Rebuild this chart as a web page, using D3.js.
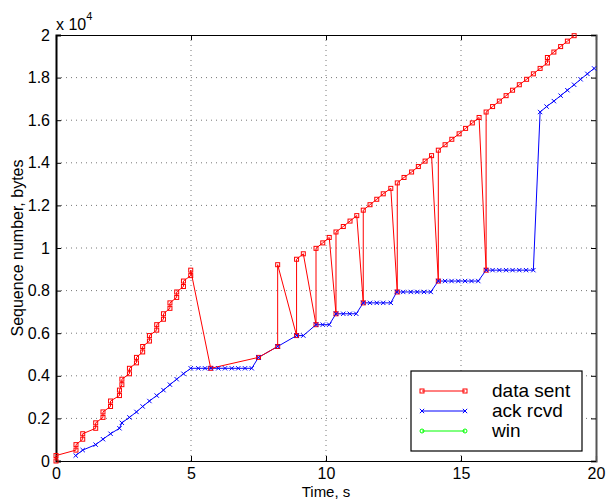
<!DOCTYPE html>
<html lang="en">
<head>
    <meta charset="utf-8">
    <title>Sequence number trace</title>
    <script src="https://cdn.jsdelivr.net/npm/d3@7"></script>
    <style>
        body { margin: 0; background: #fff; font-family: 'Liberation Sans', Arial, sans-serif; }
        svg text { font-family: 'Liberation Sans', Arial, sans-serif; }
    </style>
</head>
<body>
<svg id="chart"></svg>
<script>
    // data sent (time in s, sequence number in bytes)
    var sentTime = [0, 0, 0.74, 0.74, 0.99, 0.99, 1.47, 1.47, 1.74, 1.74, 2.02, 2.02,
        2.35, 2.35, 2.44, 2.44, 2.72, 2.72, 2.98, 2.98, 3.21, 3.21, 3.46, 3.46,
        3.73, 3.73, 3.98, 3.98, 4.22, 4.22, 4.47, 4.47, 4.72, 4.72, 4.99, 4.99,
        5.73, 7.50, 8.21, 8.21, 8.91, 8.91, 9.16, 9.63, 9.63, 9.88, 10.12,
        10.37, 10.37, 10.64, 10.89, 11.14, 11.38, 11.38, 11.63, 11.88, 12.12, 12.40,
        12.64, 12.64, 12.89, 13.17, 13.42, 13.67, 13.91, 14.16, 14.16, 14.41, 14.66,
        14.93, 15.17, 15.42, 15.67, 15.93, 15.93, 16.17, 16.42, 16.67, 16.91, 17.16,
        17.43, 17.68, 17.93, 18.20, 18.20, 18.44, 18.69, 18.94, 19.19];
    var sentSeq = [0, 256, 512, 768, 1024, 1280, 1536, 1792, 2048, 2304, 2560, 2816,
        3072, 3328, 3584, 3840, 4096, 4352, 4608, 4864, 5120, 5376, 5632, 5888,
        6144, 6400, 6656, 6912, 7168, 7424, 7680, 7936, 8192, 8448, 8704, 8960,
        4352, 4864, 5376, 9216, 5888, 9472, 9728, 6400, 9984, 10240, 10496,
        6912, 10752, 11008, 11264, 11520, 7424, 11776, 12032, 12288, 12544, 12800,
        7936, 13056, 13312, 13568, 13824, 14080, 14336, 8448, 14592, 14848, 15104,
        15360, 15616, 15872, 16128, 8960, 16384, 16640, 16896, 17152, 17408, 17664,
        17920, 18176, 18432, 18688, 18944, 19200, 19456, 19712, 19968];

    // ack rcvd
    var ackTime = [0.73, 0.99, 1.47, 1.74, 2.02, 2.35, 2.44, 2.72, 2.98, 3.21, 3.46,
        3.73, 3.98, 4.22, 4.47, 4.72, 4.99,
        5.27, 5.52, 5.74, 6.01, 6.26, 6.51, 6.75, 7.00, 7.25, 7.50, 8.21,
        8.91, 9.16, 9.63, 9.88, 10.12, 10.37, 10.64, 10.88, 11.12,
        11.38, 11.63, 11.88, 12.12, 12.40, 12.62, 12.86, 13.14, 13.38, 13.63, 13.88,
        14.16, 14.41, 14.65, 14.90, 15.15, 15.39, 15.64,
        15.93, 16.17, 16.42, 16.67, 16.91, 17.16, 17.41, 17.68,
        17.93, 18.17, 18.44, 18.69, 18.94, 19.19, 19.43, 19.68, 19.93];
    var ackSeq = [256, 512, 768, 1024, 1280, 1536, 1792, 2048, 2304, 2560, 2816,
        3072, 3328, 3584, 3840, 4096, 4352,
        4352, 4352, 4352, 4352, 4352, 4352, 4352, 4352, 4352, 4864, 5376,
        5888, 5888, 6400, 6400, 6400, 6912, 6912, 6912, 6912,
        7424, 7424, 7424, 7424, 7424, 7936, 7936, 7936, 7936, 7936, 7936,
        8448, 8448, 8448, 8448, 8448, 8448, 8448,
        8960, 8960, 8960, 8960, 8960, 8960, 8960, 8960,
        16384, 16640, 16896, 17152, 17408, 17664, 17920, 18176, 18432];

    // win (nothing shows inside the plotted range)
    var winTime = [];
    var winSeq = [];

    var xTicks = [0, 5, 10, 15, 20];
    var yTicks = [0, 2000, 4000, 6000, 8000, 10000, 12000, 14000, 16000, 18000, 20000];
    var legendLabels = ["data sent", "ack rcvd", "win"];
    var legendColors = ["#ff0000", "#0000ff", "#00ff00"];

    var width = 610, height = 501;
    var margin = {top: 35, right: 14, bottom: 40, left: 56};
    var innerW = width - margin.left - margin.right;
    var innerH = height - margin.top - margin.bottom;

    var svg = d3.select("#chart").attr("width", width).attr("height", height);
    var g = svg.append("g").attr("transform", "translate(" + margin.left + "," + margin.top + ")");

    var x = d3.scaleLinear().domain([0, 20]).range([0, innerW]);
    var y = d3.scaleLinear().domain([0, 20000]).range([innerH, 0]);

    // dotted grid
    g.append("g").selectAll("line").data(xTicks.slice(1, -1)).enter().append("line")
        .attr("x1", function(d) { return x(d); }).attr("x2", function(d) { return x(d); })
        .attr("y1", 0).attr("y2", innerH)
        .attr("stroke", "#777").attr("stroke-width", 1).attr("stroke-dasharray", "1,4");
    g.append("g").selectAll("line").data(yTicks.slice(1, -1)).enter().append("line")
        .attr("x1", 0).attr("x2", innerW)
        .attr("y1", function(d) { return y(d); }).attr("y2", function(d) { return y(d); })
        .attr("stroke", "#777").attr("stroke-width", 1).attr("stroke-dasharray", "1,4");

    // axes, matlab style ticks pointing inwards
    var fmtY = function(d) { return d3.format("~g")(d / 10000); };
    g.append("g").attr("transform", "translate(0," + innerH + ")")
        .call(d3.axisBottom(x).tickValues(xTicks).tickSize(-5).tickPadding(7))
        .call(styleAxis);
    g.append("g")
        .call(d3.axisLeft(y).tickValues(yTicks).tickFormat(fmtY).tickSize(-5).tickPadding(6))
        .call(styleAxis)
        .select(".domain").attr("stroke-width", 2);
    g.append("g")
        .call(d3.axisTop(x).tickValues(xTicks).tickSize(-5).tickFormat(""))
        .call(styleAxis);
    g.append("g").attr("transform", "translate(" + innerW + ",0)")
        .call(d3.axisRight(y).tickValues(yTicks).tickSize(-5).tickFormat(""))
        .call(styleAxis)
        .select(".domain").attr("stroke", "#555").attr("stroke-width", 2);

    function styleAxis(sel) {
        sel.select(".domain").attr("stroke", "#000").attr("stroke-width", 1.2);
        sel.selectAll(".tick line").attr("stroke", "#000");
        sel.selectAll(".tick text").attr("font-size", 16).attr("fill", "#000");
    }

    // clip
    g.append("clipPath").attr("id", "clip").append("rect")
        .attr("x", -4).attr("y", -4).attr("width", innerW + 8).attr("height", innerH + 8);
    var plot = g.append("g").attr("clip-path", "url(#clip)");

    var line = d3.line()
        .x(function(d) { return x(d[0]); })
        .y(function(d) { return y(d[1]); });

    var sentData = sentTime.map(function(t, i) { return [t, sentSeq[i]]; });
    var ackData = ackTime.map(function(t, i) { return [t, ackSeq[i]]; });
    var winData = winTime.map(function(t, i) { return [t, winSeq[i]]; });

    plot.append("path").datum(winData).attr("d", line)
        .attr("fill", "none").attr("stroke", legendColors[2]).attr("stroke-width", 1);
    plot.append("path").datum(ackData).attr("d", line)
        .attr("fill", "none").attr("stroke", legendColors[1]).attr("stroke-width", 1);
    plot.append("path").datum(sentData).attr("d", line)
        .attr("fill", "none").attr("stroke", legendColors[0]).attr("stroke-width", 1);

    // markers
    plot.selectAll(".sq").data(sentData).enter().append("rect")
        .attr("class", "sq")
        .attr("x", function(d) { return x(d[0]) - 2; })
        .attr("y", function(d) { return y(d[1]) - 2; })
        .attr("width", 4).attr("height", 4)
        .attr("fill", "none").attr("stroke", legendColors[0]).attr("stroke-width", 1);

    var cross = d3.symbol().type(d3.symbolX).size(14);
    plot.selectAll(".xm").data(ackData).enter().append("path")
        .attr("class", "xm")
        .attr("d", cross)
        .attr("transform", function(d) { return "translate(" + x(d[0]) + "," + y(d[1]) + ")"; })
        .attr("fill", "none").attr("stroke", legendColors[1]).attr("stroke-width", 1);

    // exponent label
    var expo = svg.append("text").attr("x", 56).attr("y", 30).attr("font-size", 16);
    expo.append("tspan").text("x 10");
    expo.append("tspan").attr("font-size", 11).attr("dy", -10).text("4");

    // axis titles
    svg.append("text")
        .attr("x", margin.left + innerW / 2).attr("y", 497)
        .attr("text-anchor", "middle").attr("font-size", 15).text("Time, s");
    svg.append("text")
        .attr("transform", "translate(23," + (margin.top + innerH / 2) + ") rotate(-90)")
        .attr("text-anchor", "middle").attr("font-size", 16).text("Sequence number, bytes");

    // legend
    var lg = svg.append("g").attr("transform", "translate(411,371)");
    lg.append("rect").attr("width", 171).attr("height", 80)
        .attr("fill", "#fff").attr("stroke", "#000").attr("stroke-width", 1.2);
    legendLabels.forEach(function(label, i) {
        var ly = 20 + i * 20;
        lg.append("line").attr("x1", 11).attr("x2", 54).attr("y1", ly).attr("y2", ly)
            .attr("stroke", legendColors[i]).attr("stroke-width", 1);
        [11, 54].forEach(function(mx) {
            if (i === 0) {
                lg.append("rect").attr("x", mx - 2).attr("y", ly - 2).attr("width", 4).attr("height", 4)
                    .attr("fill", "none").attr("stroke", legendColors[i]);
            } else if (i === 1) {
                lg.append("path").attr("d", cross).attr("transform", "translate(" + mx + "," + ly + ")")
                    .attr("fill", "none").attr("stroke", legendColors[i]);
            } else {
                lg.append("circle").attr("cx", mx).attr("cy", ly).attr("r", 2)
                    .attr("fill", "none").attr("stroke", legendColors[i]);
            }
        });
        lg.append("text").attr("x", 81).attr("y", ly + 6).attr("font-size", 19).text(label);
    });
</script>
</body>
</html>
